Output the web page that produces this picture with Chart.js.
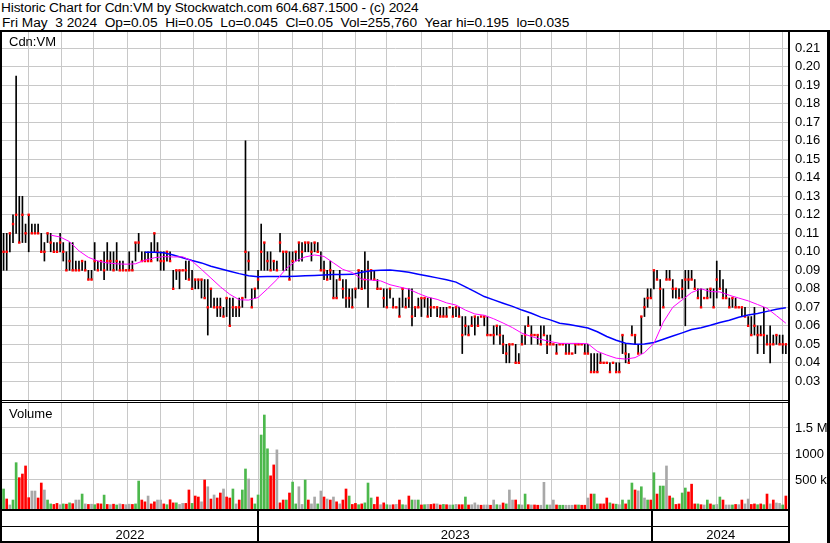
<!DOCTYPE html>
<html>
<head>
<meta charset="utf-8">
<script src="https://cdn.jsdelivr.net/npm/chart.js@4.4.1/dist/chart.umd.min.js"></script>
<style>
  html, body { margin: 0; padding: 0; background: #fff; }
  #wrap { position: relative; width: 830px; height: 543px; overflow: hidden;
          font-family: "Liberation Sans", Arial, sans-serif; font-size: 13px; color: #000; }
  .txt { position: absolute; white-space: pre; line-height: 15px; }
  .title { font-size: 13.7px; }
  .rule { position: absolute; background: #000; }
  canvas { position: absolute; left: 0; }
</style>
</head>
<body>
<div id="wrap">
  <canvas id="priceChart" width="830" height="368" style="top:32px"></canvas>
  <canvas id="volumeChart" width="830" height="141" style="top:402px"></canvas>

  <div class="txt title" style="left:1px; top:0px; letter-spacing:-0.15px">Historic Chart for Cdn:VM by Stockwatch.com 604.687.1500 - (c) 2024</div>
  <div class="txt title" style="left:2px; top:15px">Fri May  3 2024  Op=0.05  Hi=0.05  Lo=0.045  Cl=0.05  Vol=255,760  Year hi=0.195  lo=0.035</div>
  <div class="txt" style="left:9px; top:34px">Cdn:VM</div>
  <div class="txt" style="left:9px; top:406px">Volume</div>

  <div class="rule" style="left:0; top:30px; width:830px; height:2px"></div>
  <div class="rule" style="left:0; top:30px; width:2px; height:513px"></div>
  <div class="rule" style="left:788px; top:30px; width:2px; height:513px"></div>
  <div class="rule" style="left:827px; top:30px; width:3px; height:513px"></div>
  <div class="rule" style="left:0; top:400px; width:789px; height:1px"></div>
  <div class="rule" style="left:0; top:402px; width:789px; height:1px"></div>
</div>

<script>
// trading-day axis: 0 .. TOTAL_DAYS, one bar every 2 trading days
const TOTAL_DAYS = 501;
const monthStarts = [17, 38, 58, 80, 101, 122, 143, 163, 185, 204, 225, 245, 267, 287, 309, 330, 350, 372, 393, 414, 434, 455, 476, 497];
const years = ['2022', '2023', '2024'];
const yearStarts = [0, 163, 414];

const priceTicks = [0.03, 0.04, 0.05, 0.06, 0.07, 0.08, 0.09, 0.10, 0.11, 0.12, 0.13, 0.14, 0.15, 0.16, 0.17, 0.18, 0.19, 0.20, 0.21];
const volTicks = [500000, 1000000, 1500000];
const volTickLabels = ['500 k', '1000 k', '1.5 M'];

const hi = [
  .11,.11,.11,.12,.195,.13,.13,.115,.12,.115,
  .115,.115,.11,.105,.11,.11,.105,.105,.11,.105,
  .10,.105,.105,.095,.095,.095,.095,.09,.09,.105,
  .095,.095,.10,.105,.10,.10,.105,.095,.095,.09,
  .10,.095,.105,.11,.10,.10,.10,.105,.11,.105,
  .10,.10,.10,.10,.09,.09,.09,.09,.095,.095,
  .09,.085,.085,.085,.085,.085,.08,.075,.075,.075,
  .07,.075,.075,.075,.07,.075,.075,.16,.10,.08,
  .08,.09,.115,.105,.10,.10,.095,.095,.11,.10,
  .10,.10,.10,.10,.105,.105,.105,.105,.105,.105,
  .105,.10,.095,.09,.095,.09,.085,.09,.085,.085,
  .08,.08,.08,.09,.09,.10,.095,.09,.09,.085,
  .08,.08,.08,.08,.075,.07,.075,.08,.075,.08,
  .08,.07,.075,.075,.075,.075,.075,.07,.07,.07,
  .07,.07,.07,.07,.07,.07,.065,.065,.06,.065,
  .065,.065,.065,.065,.065,.055,.06,.06,.06,.055,
  .05,.05,.05,.05,.045,.055,.06,.065,.06,.055,
  .055,.06,.06,.055,.055,.05,.05,.05,.05,.05,
  .05,.045,.05,.05,.05,.05,.05,.045,.045,.045,
  .045,.04,.04,.04,.04,.04,.04,.055,.05,.045,
  .06,.055,.05,.065,.075,.08,.08,.09,.09,.085,
  .08,.09,.09,.085,.08,.08,.085,.09,.09,.09,
  .085,.08,.08,.075,.08,.08,.08,.095,.09,.085,
  .08,.075,.075,.075,.07,.07,.07,.065,.065,.07,
  .06,.06,.07,.055,.06,.055,.055,.055,.055,.05
];
const lo = [
  .09,.09,.10,.105,.11,.105,.105,.105,.10,.11,
  .11,.11,.10,.095,.105,.10,.10,.10,.10,.095,
  .09,.09,.09,.09,.09,.09,.09,.085,.085,.09,
  .09,.09,.085,.09,.09,.09,.09,.09,.09,.09,
  .09,.09,.095,.10,.095,.095,.095,.095,.10,.095,
  .09,.09,.095,.095,.08,.085,.08,.09,.085,.085,
  .08,.08,.08,.075,.075,.055,.07,.07,.065,.065,
  .065,.065,.06,.065,.065,.065,.07,.075,.09,.07,
  .075,.08,.09,.09,.09,.09,.09,.09,.10,.09,
  .09,.085,.09,.095,.095,.095,.10,.10,.095,.10,
  .10,.09,.085,.085,.085,.075,.075,.085,.075,.07,
  .07,.07,.075,.08,.08,.08,.07,.085,.085,.08,
  .08,.07,.07,.075,.07,.07,.065,.07,.07,.07,
  .06,.065,.07,.065,.07,.065,.065,.07,.065,.065,
  .065,.065,.07,.065,.065,.065,.045,.055,.055,.06,
  .055,.06,.065,.06,.055,.055,.05,.055,.05,.045,
  .04,.04,.05,.04,.04,.05,.05,.06,.05,.055,
  .05,.05,.055,.045,.05,.05,.045,.05,.05,.045,
  .045,.045,.045,.05,.05,.045,.045,.035,.035,.035,
  .04,.04,.04,.035,.04,.035,.035,.045,.04,.04,
  .055,.05,.045,.045,.065,.07,.075,.08,.085,.06,
  .07,.085,.085,.075,.075,.075,.075,.06,.08,.085,
  .08,.075,.07,.075,.075,.075,.07,.075,.08,.075,
  .075,.07,.07,.07,.07,.065,.065,.06,.055,.055,
  .045,.055,.045,.05,.04,.05,.05,.05,.045,.045
];
const cl = [
  .10,.10,.11,.115,.12,.105,.12,.11,.12,.11,
  .11,.11,.10,.10,.11,.105,.10,.10,.105,.10,
  .09,.095,.09,.09,.09,.095,.09,.085,.085,.095,
  .09,.095,.09,.095,.095,.09,.095,.09,.09,.09,
  .09,.09,.105,.105,.095,.095,.095,.095,.11,.10,
  .095,.095,.10,.095,.08,.09,.09,.09,.09,.085,
  .08,.085,.085,.085,.075,.07,.08,.07,.07,.07,
  .065,.075,.06,.07,.07,.07,.075,.10,.095,.07,
  .08,.085,.10,.105,.095,.09,.095,.09,.105,.10,
  .10,.085,.095,.10,.105,.10,.105,.105,.10,.105,
  .10,.09,.09,.085,.09,.075,.075,.085,.08,.075,
  .075,.07,.08,.09,.08,.085,.09,.09,.085,.08,
  .08,.075,.07,.08,.07,.07,.065,.08,.07,.075,
  .065,.07,.07,.075,.075,.065,.07,.07,.07,.065,
  .065,.065,.07,.065,.07,.065,.055,.06,.055,.06,
  .065,.06,.065,.065,.055,.055,.055,.06,.055,.05,
  .045,.05,.05,.04,.04,.05,.055,.06,.055,.055,
  .055,.05,.055,.05,.05,.05,.045,.05,.05,.045,
  .045,.045,.05,.05,.05,.045,.045,.035,.035,.035,
  .04,.04,.04,.035,.04,.035,.035,.055,.045,.04,
  .055,.055,.045,.065,.07,.075,.075,.09,.085,.08,
  .07,.085,.085,.08,.08,.075,.08,.085,.085,.085,
  .08,.075,.07,.075,.075,.08,.07,.085,.08,.075,
  .075,.07,.075,.07,.07,.07,.065,.06,.055,.06,
  .055,.055,.055,.05,.05,.05,.055,.05,.05,.05
];

// moving averages read every 6 trading days
const maFast = [
  null,null,null,null,null,
  .109,.108,.1055,.1005,.097, .095,.094,.0935,.0933,.0935,
  .0955,.0968,.0974,.0972,.0973, .095,.0905,.0858,.0811,.077,
  .0741,.0739,.0753,.080,.085, .091,.095,.0972,.0983,.0975,
  .094,.0905,.0888,.0852,.0847, .0843,.0822,.081,.0798,.0775,
  .0755,.0743,.0724,.0712,.0685, .0664,.0657,.0638,.0615,.059,
  .056,.0542,.0527,.0515,.0505, .0505,.0505,.0503,.0462,.0442,
  .0425,.042,.0428,.0455,.0505, .062,.070,.074,.078,.080,
  .0785,.0783,.0765,.075,.0735, .0715,.0695,.0655,.0614
];
const maSlow = [
  null,null,null,null,null,null,null,null,null,null,null,null,null,null,null,
  .0997,.0997,.0995,.0983,.0968, .0953,.094,.0922,.0908,.0895,
  .0882,.0871,.0865,.0866,.0866, .0866,.0868,.087,.0872,.0875,
  .0877,.0877,.0878,.089,.0898, .09,.0901,.0896,.0889,.0879,
  .0869,.0859,.0849,.0836,.081, .0785,.0758,.074,.0722,.0705,
  .0685,.0668,.0647,.0632,.0614, .0607,.0598,.0588,.0568,.0542,
  .0522,.0506,.05,.0502,.051, .0527,.0545,.0562,.058,.059,
  .0603,.0618,.063,.0646,.0658, .0667,.0678,.069,.0698
];

// volume in thousands, direction: 1 up, -1 down, 0 unchanged
const vol = [
  327,135,20,115,833,545,615,770,160,288,
  288,154,442,308,115,40,30,50,25,40,
  35,60,45,115,115,230,40,30,35,25,
  45,40,210,30,25,35,20,40,30,25,
  35,30,40,480,115,80,192,40,80,115,
  115,40,25,120,60,60,30,50,50,308,
  50,192,173,80,500,370,134,212,154,250,
  327,173,154,327,40,115,308,712,520,154,
  40,212,1365,1750,1100,580,790,1080,60,115,
  115,250,460,40,370,30,500,115,40,173,
  40,288,173,134,115,173,80,40,115,327,
  192,30,50,25,40,60,442,154,30,173,
  25,60,25,20,25,30,115,25,20,192,
  115,115,115,20,25,30,30,40,40,20,
  30,25,20,20,30,25,25,173,20,25,
  60,20,15,20,20,15,115,25,20,58,
  40,308,115,115,25,20,230,25,20,20,
  15,15,455,20,20,115,20,15,15,15,
  15,15,20,20,15,15,154,230,230,40,
  40,40,154,60,40,35,25,115,40,115,
  442,308,290,370,154,115,115,640,230,384,
  384,770,192,154,30,40,250,346,270,420,
  40,40,25,20,115,40,20,30,173,115,
  20,20,20,30,25,115,40,134,30,40,
  25,40,25,230,40,115,58,50,20,192
];
const volDir = [
  1,-1,0,1,1,-1,-1,-1,-1,0,
  0,-1,-1,0,1,1,-1,-1,0,1,
  -1,1,-1,0,0,1,0,-1,0,1,
  -1,-1,1,-1,0,-1,1,0,-1,0,
  0,-1,1,1,-1,-1,0,-1,-1,0,
  0,-1,1,-1,-1,1,0,0,-1,-1,
  1,-1,-1,0,-1,0,-1,0,-1,-1,
  0,-1,-1,1,0,-1,1,1,0,-1,
  1,1,1,1,1,-1,-1,0,-1,-1,
  1,-1,1,1,0,0,1,-1,0,0,
  1,0,-1,0,-1,0,-1,0,-1,-1,
  1,-1,-1,1,-1,1,1,1,-1,-1,
  0,-1,1,0,-1,0,-1,1,0,-1,
  1,0,1,-1,1,0,-1,-1,0,-1,
  1,-1,0,1,0,-1,-1,1,-1,0,
  0,0,-1,0,0,-1,0,1,0,-1,
  1,0,0,-1,1,0,1,-1,0,-1,
  -1,0,0,1,0,0,-1,1,1,0,
  0,0,-1,1,-1,-1,0,-1,1,1,
  -1,-1,-1,1,-1,1,0,1,-1,1,
  1,-1,0,1,0,1,-1,1,-1,1,
  1,0,-1,1,-1,-1,1,1,-1,-1,
  -1,1,-1,0,1,-1,1,0,1,-1,
  0,0,1,-1,0,-1,0,0,-1,-1,
  1,-1,1,-1,0,-1,0,0,1,-1
];

const GRID = '#c8c8c8';
const FONT = '"Liberation Sans", Arial, sans-serif';
Chart.defaults.font.family = FONT;
Chart.defaults.font.size = 13;
Chart.defaults.color = '#000';

const PRICE_MIN = 0.0199, PRICE_MAX = 0.2188;
const VOL_MIN = -57700, VOL_MAX = 2000000;

function xAxis() {
  return {
    type: 'linear', min: 0, max: TOTAL_DAYS, offset: false,
    border: { display: false },
    grid: { color: GRID, drawTicks: false, offset: false },
    ticks: { display: false },
    afterBuildTicks: s => { s.ticks = monthStarts.map(v => ({ value: v })); },
    afterFit: s => { s.height = 0; s.paddingLeft = 0; s.paddingRight = 0; }
  };
}

// right-hand value axis with no extra padding above/below the plot
function rightAxis(min, max, ticks, label) {
  return {
    position: 'right', min, max,
    border: { display: false },
    grid: { color: GRID, drawTicks: false },
    ticks: { padding: 6, callback: label },
    afterBuildTicks: s => { s.ticks = ticks.map(v => ({ value: v })); },
    afterFit: s => { s.width = 41; s.paddingTop = 0; s.paddingBottom = 0; }
  };
}

const dayOf = i => 2 * i + 1;

new Chart(document.getElementById('priceChart'), {
  type: 'bar',
  data: {
    datasets: [
      { type: 'line', data: maFast.map((v, k) => ({ x: 6 * k + 1, y: v })),
        borderColor: '#ff00ff', borderWidth: 1, pointRadius: 0, tension: 0, order: 0 },
      { type: 'line', data: maSlow.map((v, k) => ({ x: 6 * k + 1, y: v })),
        borderColor: '#0000ff', borderWidth: 1.5, pointRadius: 0, tension: 0, order: 0 },
      { type: 'line', data: cl.map((c, i) => ({ x: dayOf(i), y: c })), showLine: false,
        pointStyle: 'rect', pointRadius: 1.7, pointBackgroundColor: '#ff0000',
        pointBorderWidth: 0, order: 1 },
      { type: 'bar', data: hi.map((h, i) => ({ x: dayOf(i), y: [lo[i], h] })),
        backgroundColor: '#000', barThickness: 1, order: 2 }
    ]
  },
  options: {
    responsive: false, animation: false, events: [],
    layout: { autoPadding: false, padding: { left: 2, right: 0, top: 0, bottom: 0 } },
    plugins: { legend: { display: false }, tooltip: { enabled: false } },
    scales: {
      x: xAxis(),
      y: rightAxis(PRICE_MIN, PRICE_MAX, priceTicks, v => v.toFixed(2))
    }
  }
});

// year band under the volume panel
const yearBand = {
  id: 'yearBand',
  afterDraw(chart) {
    const { ctx, chartArea: a, scales: { x } } = chart;
    const right = a.right + 1;
    ctx.save();
    ctx.fillStyle = '#000';
    ctx.fillRect(0, a.bottom, right, 2);
    ctx.fillRect(0, a.bottom + 17, right, 1);
    ctx.fillRect(0, a.bottom + 32, right, 2);
    yearStarts.forEach((d, j) => {
      if (j > 0) ctx.fillRect(Math.round(x.getPixelForValue(d)) - 1, a.bottom, 2, 34);
    });
    ctx.font = '13px ' + FONT;
    ctx.textAlign = 'center';
    ctx.textBaseline = 'alphabetic';
    years.forEach((yr, j) => {
      const x0 = x.getPixelForValue(yearStarts[j]);
      const x1 = x.getPixelForValue(j + 1 < years.length ? yearStarts[j + 1] : TOTAL_DAYS);
      ctx.fillText(yr, (x0 + x1) / 2, a.bottom + 30);
    });
    ctx.restore();
  }
};

new Chart(document.getElementById('volumeChart'), {
  type: 'bar',
  data: {
    datasets: [{
      data: vol.map((v, i) => ({ x: dayOf(i), y: [VOL_MIN, v * 1000] })),
      backgroundColor: volDir.map(d => d > 0 ? '#4cb84c' : d < 0 ? '#ff0000' : '#a8a8a8'),
      barThickness: 2
    }]
  },
  options: {
    responsive: false, animation: false, events: [],
    layout: { autoPadding: false, padding: { left: 2, right: 0, top: 0, bottom: 34 } },
    plugins: { legend: { display: false }, tooltip: { enabled: false } },
    scales: {
      x: xAxis(),
      y: rightAxis(VOL_MIN, VOL_MAX, volTicks, (v, idx) => volTickLabels[idx])
    }
  },
  plugins: [yearBand]
});
</script>
</body>
</html>
